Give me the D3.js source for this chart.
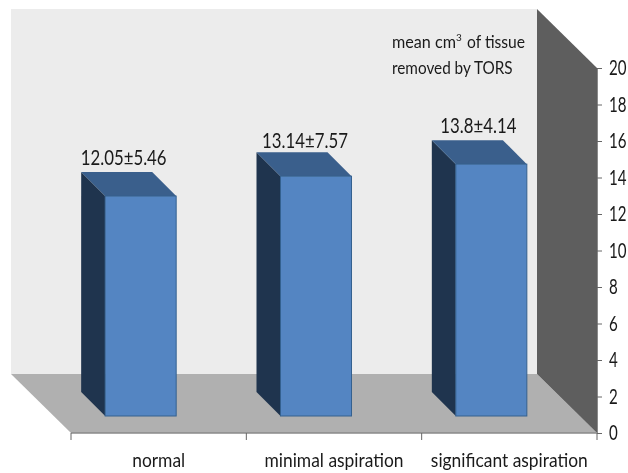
<!DOCTYPE html>
<html>
<head>
<meta charset="utf-8">
<script src="https://cdn.jsdelivr.net/npm/d3@7"></script>
<style>
  html, body { margin: 0; padding: 0; background: #fff; }
  svg { display: block; filter: blur(0.4px); }
  text { font-family: Lato, "Liberation Sans", sans-serif; fill: #1a1a1a; }
</style>
</head>
<body>
<div id="chart"></div>
<script>
(() => {
    // Values
    const categories = ["normal", "minimal aspiration", "significant aspiration"];
    const means = [12.05, 13.14, 13.8];
    const barLabels = ["12.05±5.46", "13.14±7.57", "13.8±4.14"];
    const yTicks = [0, 2, 4, 6, 8, 10, 12, 14, 16, 18, 20];

    const width = 628;
    const height = 473;

    // Front plane of the 3D box and its depth
    const plot = { left: 71, right: 597, top: 68, bottom: 433 };
    const depth = { x: -60, y: -59 };
    const barDepth = { x: -24, y: -24 };
    const barShiftX = -18;
    const barShiftY = -17;

    // Small label nudges per bar, the labels are not placed evenly in the original
    const labelNudgeX = [-5, 1, -1];
    const labelNudgeY = [-7, -4, -7];

    const svg = d3.select("#chart")
        .append("svg")
        .attr("width", width)
        .attr("height", height);

    const xAxisScale = d3.scaleBand()
        .domain(categories)
        .range([plot.left, plot.right]);

    const xBar = d3.scaleBand()
        .domain(categories)
        .range([plot.left, plot.right])
        .paddingInner(0.595)
        .paddingOuter(0.2975);

    const y = d3.scaleLinear()
        .domain([0, 20])
        .range([plot.bottom, plot.top]);

    const poly = pts => pts.map(p => p.join(",")).join(" ");

    // The reference font is a narrow one, so squeeze the text horizontally
    const squeeze = (selection, factor) => selection.each(function () {
        d3.select(this)
            .attr("textLength", this.getComputedTextLength() * factor)
            .attr("lengthAdjust", "spacingAndGlyphs");
    });

    // Back wall
    svg.append("polygon")
        .attr("points", poly([
            [plot.left + depth.x, plot.top + depth.y],
            [plot.right + depth.x, plot.top + depth.y],
            [plot.right + depth.x, plot.bottom + depth.y],
            [plot.left + depth.x, plot.bottom + depth.y]
        ]))
        .attr("fill", "#ececec");

    // Floor
    svg.append("polygon")
        .attr("points", poly([
            [plot.left + depth.x, plot.bottom + depth.y],
            [plot.right + depth.x, plot.bottom + depth.y],
            [plot.right, plot.bottom],
            [plot.left, plot.bottom]
        ]))
        .attr("fill", "#b0b0b0");

    // Side wall
    svg.append("polygon")
        .attr("points", poly([
            [plot.right + depth.x, plot.top + depth.y],
            [plot.right, plot.top],
            [plot.right, plot.bottom],
            [plot.right + depth.x, plot.bottom + depth.y]
        ]))
        .attr("fill", "#5e5e5e");

    // Bars
    const bars = svg.selectAll(".bar")
        .data(categories.map((c, i) => ({ category: c, mean: means[i], label: barLabels[i], index: i })))
        .enter()
        .append("g")
        .attr("class", "bar")
        .attr("transform", `translate(${barShiftX},${barShiftY})`);

    const bw = xBar.bandwidth();

    bars.append("polygon")
        .attr("points", d => {
            const x0 = xBar(d.category);
            return poly([
                [x0 + barDepth.x, y(d.mean) + barDepth.y],
                [x0, y(d.mean)],
                [x0, y(0)],
                [x0 + barDepth.x, y(0) + barDepth.y]
            ]);
        })
        .attr("fill", "#1f344e");

    bars.append("polygon")
        .attr("points", d => {
            const x0 = xBar(d.category);
            return poly([
                [x0 + barDepth.x, y(d.mean) + barDepth.y],
                [x0 + bw + barDepth.x, y(d.mean) + barDepth.y],
                [x0 + bw, y(d.mean)],
                [x0, y(d.mean)]
            ]);
        })
        .attr("fill", "#3a5f8c");

    bars.append("rect")
        .attr("x", d => xBar(d.category))
        .attr("y", d => y(d.mean))
        .attr("width", bw)
        .attr("height", d => y(0) - y(d.mean))
        .attr("fill", "#5485c2")
        .attr("stroke", "#35618f")
        .attr("stroke-width", 1);

    bars.append("text")
        .attr("x", d => xBar(d.category) + barDepth.x + (bw - barDepth.x) / 2 + labelNudgeX[d.index])
        .attr("y", d => y(d.mean) + barDepth.y + labelNudgeY[d.index])
        .attr("text-anchor", "middle")
        .style("font-size", "21px")
        .text(d => d.label)
        .call(squeeze, 0.8);

    // Floor front edge
    svg.append("line")
        .attr("x1", plot.left)
        .attr("x2", plot.right)
        .attr("y1", plot.bottom)
        .attr("y2", plot.bottom)
        .attr("stroke", "#8a8a8a")
        .attr("stroke-width", 1.5);

    // Axes
    const tickSqueeze = 0.72;
    const yAxis = svg.append("g")
        .attr("transform", `translate(${plot.right},0)`)
        .call(d3.axisRight(y).tickValues(yTicks).tickSize(5).tickPadding(7));
    yAxis.select(".domain").attr("stroke", "#8a8a8a");
    yAxis.selectAll(".tick line").attr("stroke", "#666");
    yAxis.selectAll("text")
        .style("font-size", "21px")
        .style("font-family", 'Lato, "Liberation Sans", sans-serif')
        .attr("x", 12 / tickSqueeze)
        .attr("transform", `scale(${tickSqueeze},1)`);

    const xAxis = svg.append("g")
        .attr("transform", `translate(0,${plot.bottom})`)
        .call(d3.axisBottom(xAxisScale).tickSize(0).tickPadding(20));
    xAxis.select(".domain").remove();
    xAxis.selectAll("text")
        .style("font-size", "20px")
        .style("font-family", 'Lato, "Liberation Sans", sans-serif')
        .call(squeeze, 0.87);

    // Category separators on the x axis
    svg.selectAll(".x-sep")
        .data([...categories.map(c => xAxisScale(c)), plot.right])
        .enter()
        .append("line")
        .attr("class", "x-sep")
        .attr("x1", d => d)
        .attr("x2", d => d)
        .attr("y1", plot.bottom)
        .attr("y2", plot.bottom + 7)
        .attr("stroke", "#666");

    // Note in the top right corner
    svg.append("text")
        .attr("x", 392)
        .attr("y", 48)
        .style("font-size", "17px")
        .text("mean cm")
        .call(squeeze, 0.95);

    svg.append("text")
        .attr("x", 456)
        .attr("y", 41)
        .style("font-size", "10px")
        .text("3");

    svg.append("text")
        .attr("x", 467)
        .attr("y", 48)
        .style("font-size", "17px")
        .text("of tissue")
        .call(squeeze, 0.92);

    svg.append("text")
        .attr("x", 392)
        .attr("y", 74)
        .style("font-size", "17px")
        .text("removed by TORS")
        .call(squeeze, 0.9);
})();
</script>
</body>
</html>
